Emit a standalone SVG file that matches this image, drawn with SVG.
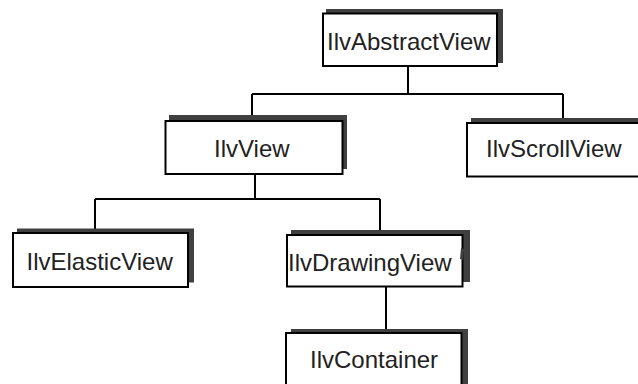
<svg xmlns="http://www.w3.org/2000/svg" width="638" height="384" viewBox="0 0 638 384">
<style>
.sh{fill:#404040;stroke:none}
.bx{fill:#fff;stroke:#000;stroke-width:2}
.lb{font-family:"Liberation Sans",Arial,sans-serif;font-size:24px;fill:#222}
.cn{fill:none;stroke:#000;stroke-width:2}
</style>
<rect width="638" height="384" fill="#fff"/>
<g id="connectors">
<path class="cn" d="M408 66V94M252 94H563M252 94V120M563 94V122"/>
<path class="cn" d="M255 174V199M95 199H380M95 199V232M380 199V234"/>
<path class="cn" d="M386 287V332"/>
</g>
<g id="IlvAbstractView">
<rect class="sh" x="326" y="9" width="177" height="54"/>
<rect class="bx" x="323" y="13.5" width="174" height="52.5"/>
<text class="lb" x="327" y="50">IlvAbstractView</text>
</g>
<g id="IlvView">
<rect class="sh" x="169" y="115" width="178" height="54"/>
<rect class="bx" x="165.5" y="121" width="177" height="53"/>
<text class="lb" x="214" y="156.5">IlvView</text>
</g>
<g id="IlvScrollView">
<rect class="sh" x="471" y="118" width="180" height="54"/>
<rect class="bx" x="467" y="123" width="180" height="53.5"/>
<text class="lb" x="486" y="157">IlvScrollView</text>
</g>
<g id="IlvElasticView">
<rect class="sh" x="17" y="228.5" width="177" height="54"/>
<rect class="bx" x="13" y="233" width="175" height="54"/>
<text class="lb" x="26.5" y="269.5">IlvElasticView</text>
</g>
<g id="IlvDrawingView">
<rect class="sh" x="291" y="230" width="179" height="52"/>
<rect class="bx" x="287" y="235" width="175.5" height="51.5"/>
<text class="lb" x="288" y="270.5">IlvDrawingView</text>
<path d="M461 248L464 249L463 260L460 259Z" fill="#404040"/>
</g>
<g id="IlvContainer">
<rect class="sh" x="291" y="329" width="177" height="70"/>
<rect class="bx" x="286" y="333" width="175.5" height="60"/>
<text class="lb" x="310" y="368">IlvContainer</text>
</g>
</svg>
